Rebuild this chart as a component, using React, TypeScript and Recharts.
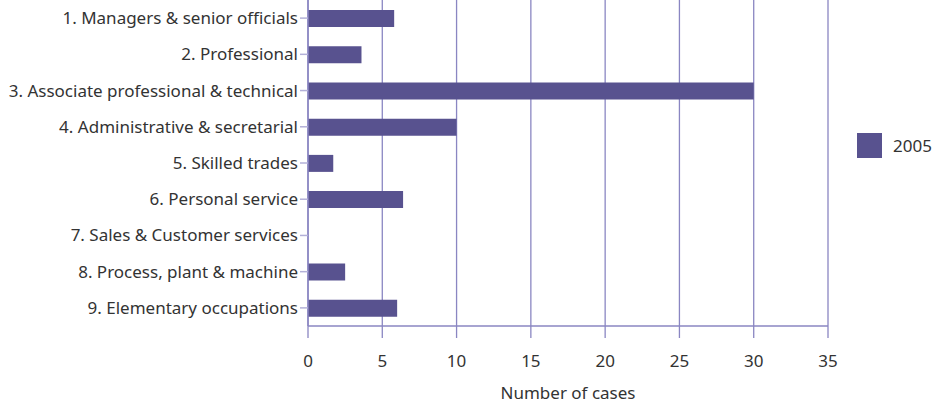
import React from 'react';
import { BarChart, Bar, XAxis, YAxis, CartesianGrid, Legend } from 'recharts';

const categories = [
  '1. Managers & senior officials',
  '2. Professional',
  '3. Associate professional & technical',
  '4. Administrative & secretarial',
  '5. Skilled trades',
  '6. Personal service',
  '7. Sales & Customer services',
  '8. Process, plant & machine',
  '9. Elementary occupations',
];
const cases2005 = [5.8, 3.6, 30, 10, 1.7, 6.4, 0, 2.5, 6];
const xTicks = [0, 5, 10, 15, 20, 25, 30, 35];

const data = categories.map((name, i) => ({ name, y2005: cases2005[i] }));

const barColor = '#58528f';
const lineColor = '#8a86c2';
const textColor = '#333333';
const font = '"Noto Sans", sans-serif';

const LegendBox = () => (
  <div style={{ width: 105, display: 'flex', alignItems: 'center', fontFamily: font, fontSize: 17, color: textColor }}>
    <span style={{ display: 'inline-block', width: 25, height: 25, background: barColor, marginLeft: 29, marginRight: 11 }} />
    <span>2005</span>
  </div>
);

const App = () => {
  return (
    <div style={{ position: 'absolute', left: 0, top: 0 }}>
      <BarChart
        width={935}
        height={405}
        data={data}
        layout="vertical"
        margin={{ top: 0, right: 2, left: 0, bottom: 8 }}
        barCategoryGap={0}
        style={{ fontFamily: font }}
      >
        <CartesianGrid horizontal={false} stroke={lineColor} strokeWidth={1.3} />
        <XAxis
          type="number"
          domain={[0, 35]}
          ticks={xTicks}
          height={71}
          tickSize={12}
          tickMargin={17}
          axisLine={{ stroke: lineColor, strokeWidth: 1.5 }}
          tickLine={{ stroke: lineColor, strokeWidth: 1.3 }}
          tick={{ fill: textColor, fontSize: 17 }}
          label={{ value: 'Number of cases', position: 'insideBottom', offset: -2, fill: textColor, fontSize: 17 }}
        />
        <YAxis
          type="category"
          dataKey="name"
          width={308}
          tickSize={8}
          tickMargin={2}
          axisLine={{ stroke: lineColor, strokeWidth: 1.5 }}
          tickLine={{ stroke: '#b3b0d8', strokeWidth: 1.5 }}
          tick={{ fill: textColor, fontSize: 17 }}
          interval={0}
        />
        <Legend
          layout="vertical"
          align="right"
          verticalAlign="top"
          wrapperStyle={{ top: 133 }}
          content={LegendBox}
        />
        <Bar dataKey="y2005" name="2005" fill={barColor} barSize={17} isAnimationActive={false} />
      </BarChart>
    </div>
  );
};

export default App;
